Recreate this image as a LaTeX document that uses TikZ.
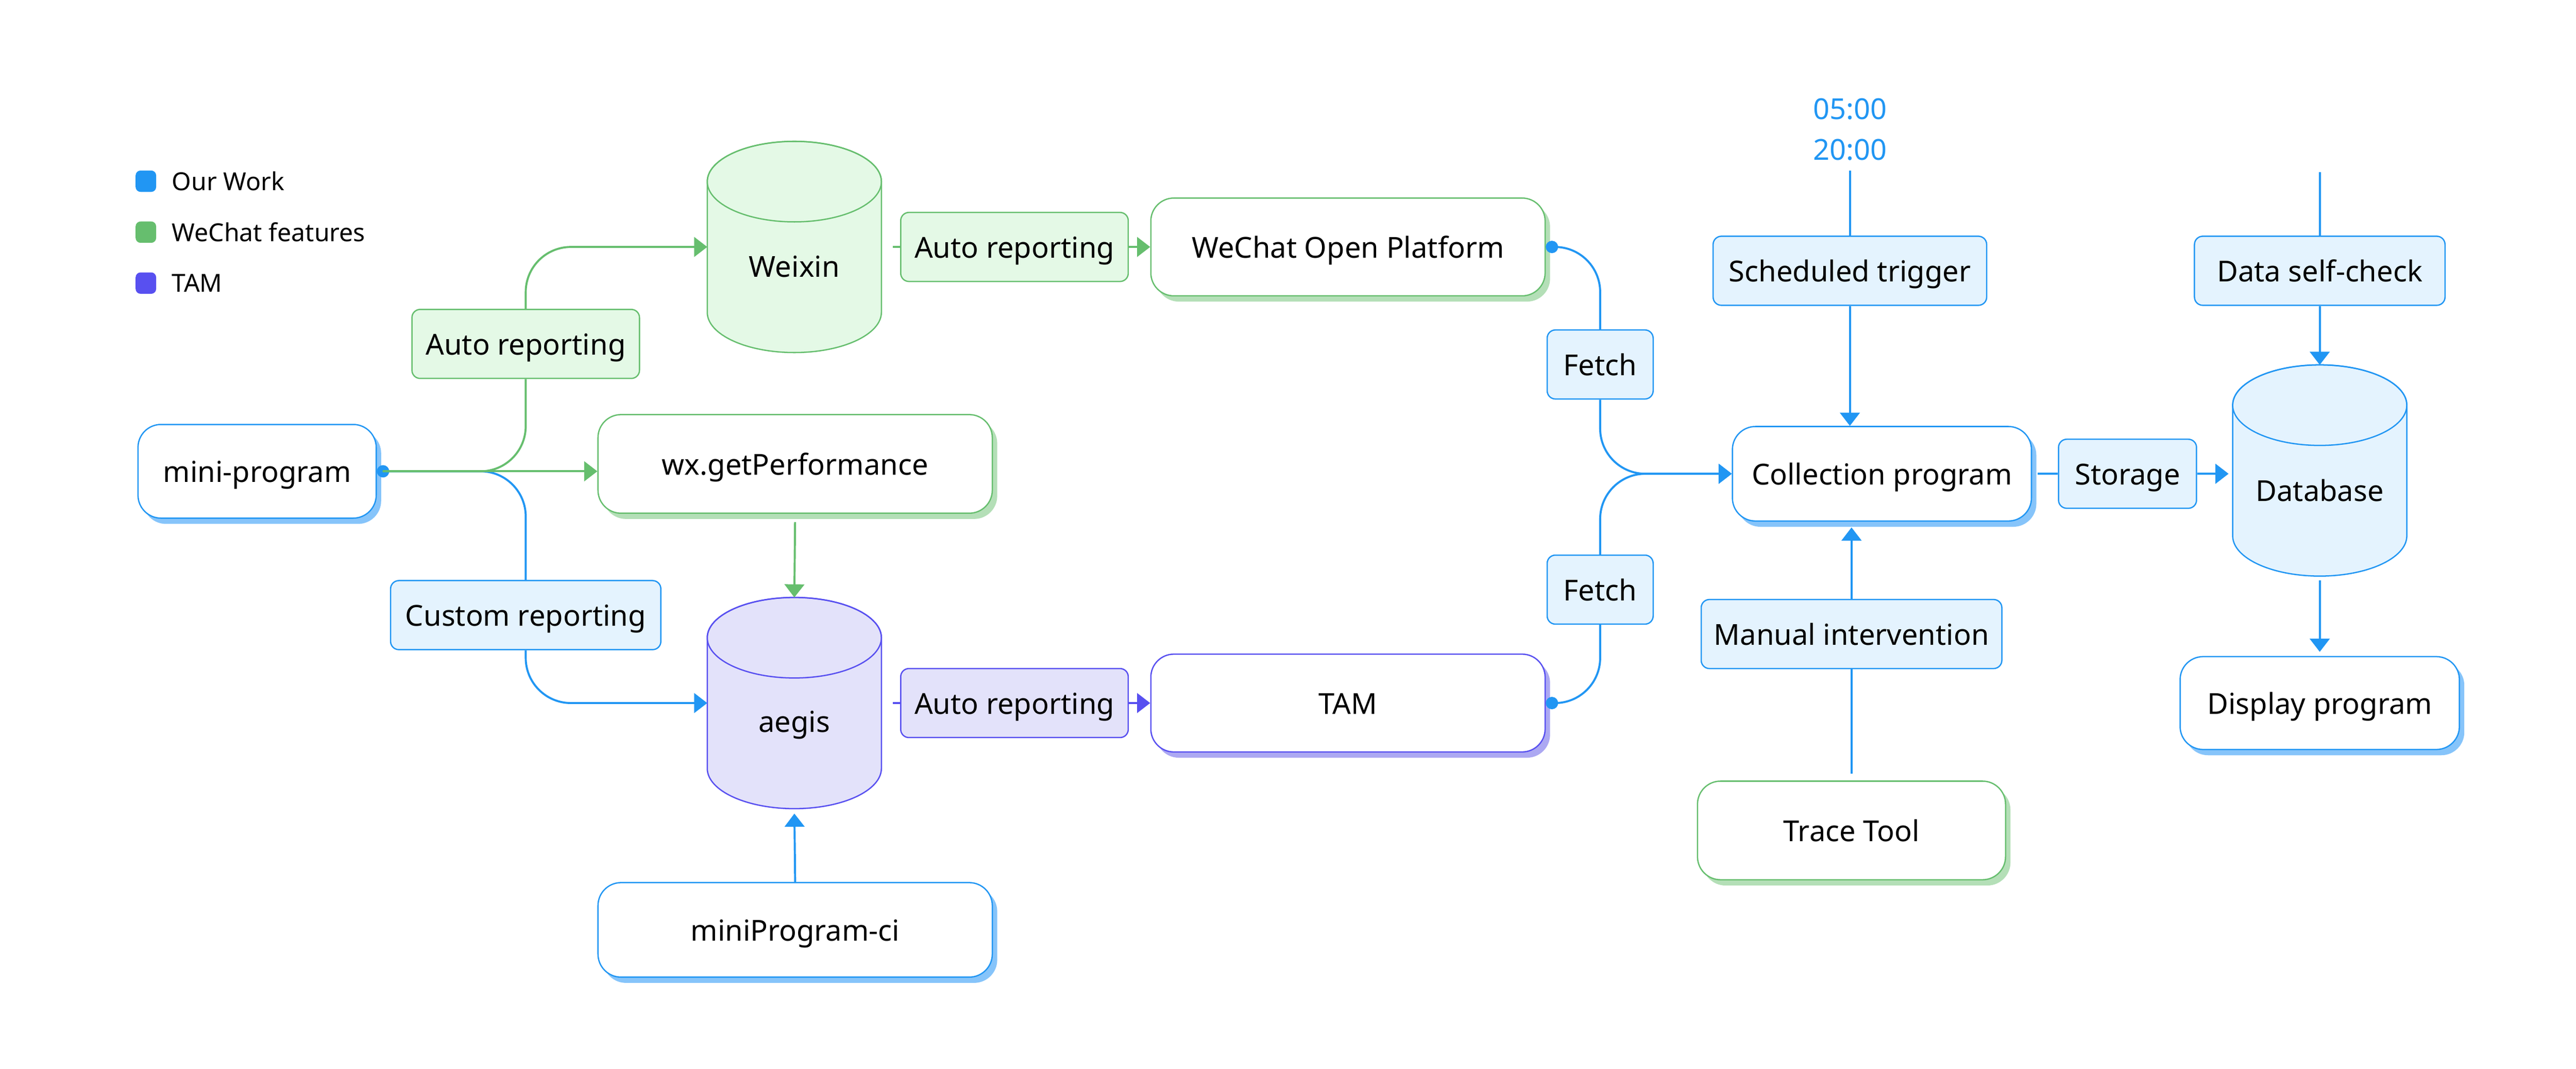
\documentclass[tikz,border=0pt]{standalone}
\usepackage{fontspec}
\setmainfont{Noto Sans}
\usetikzlibrary{calc,positioning,shadows,arrows.meta}
\tikzset{
    %Define standard arrow tip
    >={Triangle[length=0.16cm, width=0.24cm]}
}
\definecolor{ourwork}{RGB}{33,150,243}
\definecolor{wechat}{RGB}{102,190,110}
\definecolor{tam}{RGB}{88,80,240}
\definecolor{ourworkfill}{RGB}{228,243,254}
\definecolor{wechatfill}{RGB}{228,249,230}
\definecolor{tamfill}{RGB}{227,226,250}
\definecolor{ourworkshadow}{RGB}{134,196,250}
\definecolor{wechatshadow}{RGB}{180,223,183}
\definecolor{tamshadow}{RGB}{172,168,242}

\tikzset{
    program/.style={draw=#1, fill=white, line width=0.45pt, rounded corners=0.28cm, minimum height=1.15cm,
        text height=0.76em, text depth=0em,
        general shadow={fill=#1shadow, shadow xshift=0.06cm, shadow yshift=-0.07cm}},
    tag/.style={draw=#1, fill=#1fill, line width=0.45pt, rounded corners=0.1cm, minimum height=0.84cm, inner xsep=0.1cm,
        text height=0.76em, text depth=0em},
    link/.style={draw=#1, line width=0.7pt, rounded corners=0.55cm},
    dbbox/.style={minimum width=2.12cm, minimum height=2.57cm, outer sep=0pt, inner sep=0pt},
    legend/.style={fill=#1, rounded corners=0.06cm, minimum width=0.25cm, minimum height=0.26cm, inner sep=0pt},
    legendtext/.style={font=\fontsize{8.6}{10}\selectfont}
}

\begin{document}
\begin{tikzpicture}[font=\fontsize{10}{12}\selectfont, every text node part/.style={align=center}]

	\useasboundingbox (0, 0) rectangle (31.36, 13.005);

	% legend
	\node (legwork) at (1.776, 10.8) [legend=ourwork] {};
	\node (legwechat) at (1.776, 10.18) [legend=wechat] {};
	\node (legtam) at (1.776, 9.56) [legend=tam] {};
	\node (legworktext) [right=0.06cm of legwork, legendtext] {Our Work};
	\node (legwechattext) [right=0.06cm of legwechat, legendtext] {WeChat features};
	\node (legtamtext) [right=0.06cm of legtam, legendtext] {TAM};

	% cylinders
	\node (weixin) at (9.67, 10.0) [dbbox] {};
	\draw[draw=wechat, fill=wechatfill, line width=0.45pt] ([yshift=-0.49cm]weixin.north west) -- ([yshift=0.49cm]weixin.south west) arc[start angle=180, end angle=360, x radius=1.06cm, y radius=0.49cm] -- ([yshift=-0.49cm]weixin.north east) arc[start angle=0, end angle=180, x radius=1.06cm, y radius=0.49cm] -- cycle;
	\draw[draw=wechat, line width=0.45pt] ([yshift=-0.49cm]weixin.north) ellipse [x radius=1.06cm, y radius=0.49cm];
	\node at ([yshift=-0.24cm]weixin.center) {Weixin};

	\node (aegis) at (9.67, 4.45) [dbbox] {};
	\draw[draw=tam, fill=tamfill, line width=0.45pt] ([yshift=-0.49cm]aegis.north west) -- ([yshift=0.49cm]aegis.south west) arc[start angle=180, end angle=360, x radius=1.06cm, y radius=0.49cm] -- ([yshift=-0.49cm]aegis.north east) arc[start angle=0, end angle=180, x radius=1.06cm, y radius=0.49cm] -- cycle;
	\draw[draw=tam, line width=0.45pt] ([yshift=-0.49cm]aegis.north) ellipse [x radius=1.06cm, y radius=0.49cm];
	\node at ([yshift=-0.27cm]aegis.center) {aegis};

	\node (database) at (28.24, 7.28) [dbbox] {};
	\draw[draw=ourwork, fill=ourworkfill, line width=0.45pt] ([yshift=-0.49cm]database.north west) -- ([yshift=0.49cm]database.south west) arc[start angle=180, end angle=360, x radius=1.06cm, y radius=0.49cm] -- ([yshift=-0.49cm]database.north east) arc[start angle=0, end angle=180, x radius=1.06cm, y radius=0.49cm] -- cycle;
	\draw[draw=ourwork, line width=0.45pt] ([yshift=-0.49cm]database.north) ellipse [x radius=1.06cm, y radius=0.49cm];
	\node at ([yshift=-0.24cm]database.center) {Database};

	% programs
	\node (mini) at (3.13, 7.27) [program=ourwork, minimum width=2.9cm, minimum height=1.14cm] {mini-program};
	\node (wxperf) at (9.68, 7.36) [program=wechat, minimum width=4.8cm, minimum height=1.2cm] {wx.getPerformance};
	\node (ci) at (9.68, 1.69) [program=ourwork, minimum width=4.8cm] {miniProgram-ci};
	\node (wop) at (16.41, 10.0) [program=wechat, minimum width=4.8cm, minimum height=1.19cm] {WeChat Open Platform};
	\node (tam) at (16.41, 4.45) [program=tam, minimum width=4.8cm, minimum height=1.19cm] {TAM};
	\node (coll) at (22.91, 7.24) [program=ourwork, minimum width=3.64cm] {Collection program};
	\node (trace) at (22.54, 2.9) [program=wechat, minimum width=3.75cm, minimum height=1.2cm] {Trace Tool};
	\node (display) at (28.24, 4.45) [program=ourwork, minimum width=3.4cm, minimum height=1.13cm] {Display program};

	% tags
	\node (autoweixin) at (6.4, 8.82) [tag=wechat, minimum width=2.77cm] {Auto reporting};
	\node (custom) at (6.4, 5.52) [tag=ourwork, minimum width=3.29cm] {Custom reporting};
	\node (autowop) at (12.35, 10.0) [tag=wechat, minimum width=2.77cm] {Auto reporting};
	\node (autotam) at (12.35, 4.45) [tag=tam, minimum width=2.77cm] {Auto reporting};
	\node (fetchwop) at (19.48, 8.57) [tag=ourwork, minimum width=1.29cm] {Fetch};
	\node (fetchtam) at (19.48, 5.83) [tag=ourwork, minimum width=1.29cm] {Fetch};
	\node (storage) at (25.9, 7.24) [tag=ourwork, minimum width=1.68cm] {Storage};
	\node (trigger) at (22.52, 9.71) [tag=ourwork, minimum width=3.33cm] {Scheduled trigger};
	\node (check) at (28.24, 9.71) [tag=ourwork, minimum width=3.05cm] {Data self-check};
	\node (manual) at (22.54, 5.29) [tag=ourwork, minimum width=3.66cm] {Manual intervention};

	\node (times) at (22.52, 11.43) [text=ourwork, font=\fontsize{10}{14.2}\selectfont] {05:00\\20:00};
	\coordinate (checkin) at (28.24, 10.91);

	% mini-program
	\draw[link=ourwork, {Circle[length=0.15cm]}-] (mini.east) -| (custom.north);
	\draw[link=ourwork, ->] (custom.south) |- (aegis.west);
	\draw[link=wechat, shorten <=0.07cm] (mini.east) -| (autoweixin.south);
	\draw[link=wechat, ->] (autoweixin.north) |- (weixin.west);
	\draw[link=wechat, ->, shorten <=0.07cm] (mini.east) -- (mini.east -| wxperf.west);
	\draw[link=wechat, ->, shorten <=0.1cm] (wxperf.south) -- (aegis.north);
	\draw[link=ourwork, ->, shorten >=0.06cm] (ci.north) -- (aegis.south);

	% reporting
	\draw[link=wechat, shorten <=0.14cm] (weixin.east) -- (autowop.west);
	\draw[link=wechat, ->] (autowop.east) -- (wop.west);
	\draw[link=tam, shorten <=0.14cm] (aegis.east) -- (autotam.west);
	\draw[link=tam, ->] (autotam.east) -- (tam.west);

	% fetch
	\draw[link=ourwork, {Circle[length=0.15cm]}-] (wop.east) -| (fetchwop.north);
	\draw[link=ourwork, ->] (fetchwop.south) |- (coll.west);
	\draw[link=ourwork, {Circle[length=0.15cm]}-] (tam.east) -| (fetchtam.south);
	\draw[link=ourwork, ->] (fetchtam.north) |- (coll.west);

	% collection
	\draw[link=ourwork] (times.south) -- (trigger.north);
	\draw[link=ourwork, ->] (trigger.south) -- (trigger.south |- coll.north);
	\draw[link=ourwork, shorten <=0.08cm] (trace.north) -- (manual.south);
	\draw[link=ourwork, ->, shorten >=0.07cm] (manual.north) -- (manual.north |- coll.south);
	\draw[link=ourwork, shorten <=0.07cm] (coll.east) -- (storage.west);
	\draw[link=ourwork, ->, shorten >=0.05cm] (storage.east) -- (storage.east -| database.west);

	% database
	\draw[link=ourwork] (checkin) -- (check.north);
	\draw[link=ourwork, ->] (check.south) -- (database.north);
	\draw[link=ourwork, ->, shorten <=0.05cm, shorten >=0.05cm] (database.south) -- (display.north);

\end{tikzpicture}
\end{document}
